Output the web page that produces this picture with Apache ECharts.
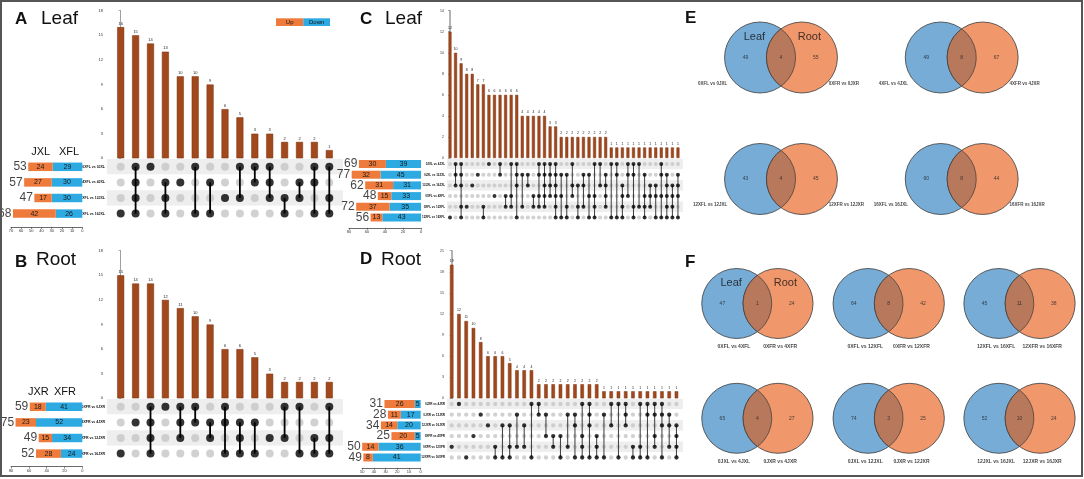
<!DOCTYPE html>
<html><head><meta charset="utf-8">
<script src="https://cdn.jsdelivr.net/npm/echarts/dist/echarts.min.js"></script>
<style>html,body{margin:0;padding:0;background:#fff}#c{width:1084px;height:479px}</style>
</head><body><div id="c"></div>
<script>
// ================= DATA =================
const aRows = ['0XFL vs 0JXL','4XFL vs 4JXL','12XFL vs 12JXL','16XFL vs 16JXL'];
const aUp = [24,27,17,42];
const aDown = [29,30,30,26];
const aCounts = [16,15,14,13,10,10,9,6,5,3,3,2,2,2,1];
const aSets = [[3],[0,1,2,3],[0],[1,2,3],[1],[0,3],[1,3],[2],[0,2],[0,1],[0,1,2],[2,3],[1,2],[0,1,3],[0,2,3]];

const bRows = ['0XFR vs 0JXR','4XFR vs 4JXR','12XFR vs 12JXR','16XFR vs 16JXR'];
const bUp = [18,23,15,28];
const bDown = [41,52,34,24];
const bCounts = [15,14,14,12,11,10,9,6,6,5,3,2,2,2,2];
const bSets = [[3],[1],[0,1,2,3],[0],[0,1,2],[0,1],[1,2],[0,1,3],[1,2,3],[1,3],[2],[0,2],[0,3],[2,3],[0,2,3]];

const cRows = ['0JXL vs 4JXL','0JXL vs 12JXL','12JXL vs 16JXL','0XFL vs 4XFL','0XFL vs 12XFL','12XFL vs 16XFL'];
const cUp = [30,32,31,15,37,13];
const cDown = [39,45,31,33,35,43];
const cCounts = [12,10,9,8,8,7,7,6,6,6,6,6,6,4,4,4,4,4,3,3,2,2,2,2,2,2,2,2,2,1,1,1,1,1,1,1,1,1,1,1,1,1];
const cSets = [[5],[0,1,2],[0,1,2,4,5],[4],[2],[1],[4,5],[0],[3],[0,1],[3,4],[0,3,4],[0,1,2,5],[1,4],[1,2],[3,4],
  [0,1,3,4],[0,1,2,3,4],[0,1,2,3],[0,1,2,3,4,5],[1,3,5],[1,4,5],[0,2,3],[2,4,5],[1,2,4],[1,3,5],[0,3,4,5],[0,2],
  [1,2,3,4],[0,5],[0,1,5],[2,3,4,5],[0,1,3],[0,1,4,5],[0,4],[1,3,4,5],[2,3,4],[2,3,5],[0,1,3,5],[1,2,3,4,5],[2,3,4,5],[1,2,3,5]];

const dRows = ['0JXR vs 4JXR','0JXR vs 12JXR','12JXR vs 16JXR','0XFR vs 4XFR','0XFR vs 12XFR','12XFR vs 16XFR'];
const dUp = [26,11,14,20,14,8];
const dDown = [5,17,20,5,36,41];
const dCounts = [19,12,11,10,8,6,6,6,5,4,4,4,2,2,2,2,2,2,2,2,2,1,1,1,1,1,1,1,1,1,1,1];
const dSets = [[4],[0],[5],[3],[1],[2],[4,5],[2,5],[2,4,5],[1,4],[2,4],[0,5],[0,1],[1,3],[3,4],[3,5],
  [1,4],[1,2,5],[0,3,4,5],[0,1,2,5],[3,4,5],[1,5],[0,2],[0,5],[0,1,2],[4,5],[0,4,5],[0,1,5],[0,1,3,4],[0,1,2,5],[1,2,4],[2,3,4,5]];

const eLeft = [49,49,43,60];
const eBoth = [4,8,4,8];
const eRight = [55,67,45,44];
const eLabL = ['0XFL vs 0JXL','4XFL vs 4JXL','12XFL vs 12JXL','16XFL vs 16JXL'];
const eLabR = ['0XFR vs 0JXR','4XFR vs 4JXR','12XFR vs 12JXR','16XFR vs 16JXR'];

const fLeft = [47,64,45,65,74,52];
const fBoth = [1,8,11,4,3,10];
const fRight = [24,42,38,27,25,24];
const fLabL = ['0XFL vs 4XFL','0XFL vs 12XFL','12XFL vs 16XFL','0JXL vs 4JXL','0JXL vs 12JXL','12JXL vs 16JXL'];
const fLabR = ['0XFR vs 4XFR','0XFR vs 12XFR','12XFR vs 16XFR','0JXR vs 4JXR','0JXR vs 12JXR','12JXR vs 16JXR'];

// ================= STYLE =================
const FONT = "'Liberation Sans', Arial, Helvetica, sans-serif";
const UP = '#ee7a3c', DOWN = '#2daae2', BAR = '#a1481d', BARB = '#7a3310';
const VBLUE = '#76acd6', VORANGE = '#f0976b', VOVER = '#b8785c';
const VD = 0.59;

const option = {animation:false, textStyle:{fontFamily:FONT}, grid:[], xAxis:[], yAxis:[], series:[], graphic:[]};
function addGrid(l,t,w,h){ option.grid.push({left:l, top:t, width:w, height:h, containLabel:false, outerBoundsMode:'none'}); return option.grid.length-1; }
function addX(o){ option.xAxis.push(o); return option.xAxis.length-1; }
function addY(o){ option.yAxis.push(o); return option.yAxis.length-1; }

function upset(cfg, rows, up, down, counts, sets){
  const xmin = (cfg.bandL - cfg.col0)/cfg.step, xmax = (cfg.bandR - cfg.col0)/cfg.step;
  const W = cfg.bandR - cfg.bandL, H = cfg.rowH*rows.length;
  // intersection-size bars
  const g1 = addGrid(cfg.bandL, cfg.barTop, W, cfg.barBottom - cfg.barTop);
  const x1 = addX({gridIndex:g1, type:'value', min:xmin, max:xmax, show:false});
  const y1 = addY({gridIndex:g1, type:'value', min:0, max:cfg.barMax, interval:cfg.barInt, offset:cfg.yOff,
    axisLine:{show:true, lineStyle:{color:'#a0a0a0', width:cfg.yAxisW}},
    axisTick:{show:true, length:2, lineStyle:{color:'#777', width:0.6}},
    axisLabel:{fontSize:cfg.yLab, color:'#333', margin:2}, splitLine:{show:false}});
  option.series.push({type:'bar', xAxisIndex:x1, yAxisIndex:y1, barWidth:cfg.barW,
    data:counts.map((v,i)=>[i,v]),
    itemStyle:{color:BAR, borderColor:BARB, borderWidth:0.5},
    label:{show:true, position:'top', distance:1.5, fontSize:cfg.valSize, color:'#222', formatter:p=>p.value[1]}});
  // matrix
  const g2 = addGrid(cfg.bandL, cfg.matTop, W, H);
  const x2 = addX({gridIndex:g2, type:'value', min:xmin, max:xmax, show:false});
  const y2 = addY({gridIndex:g2, type:'category', data:rows, inverse:true,
    axisLine:{show:false}, axisTick:{show:false},
    axisLabel:{fontSize:cfg.rowLab, color:'#111', margin:2, interval:0, fontWeight:'bold'},
    splitLine:{show:false}, splitArea:{show:true, areaStyle:{color:['#eeeeee','#ffffff']}}});
  const lines = [], grey = [], black = [];
  sets.forEach((s,i)=>{
    for (let r=0;r<rows.length;r++) (s.includes(r)?black:grey).push([i,r]);
    if (s.length>1) lines.push([i, Math.min(...s), Math.max(...s)]);
  });
  option.series.push({type:'scatter', xAxisIndex:x2, yAxisIndex:y2, data:grey, symbolSize:cfg.dot,
    itemStyle:{color:'#c6c6c6'}, z:3, silent:true});
  option.series.push({type:'custom', xAxisIndex:x2, yAxisIndex:y2, data:lines, z:4,
    encode:{x:0, y:[1,2]},
    renderItem:(p,api)=>{
      const a = api.coord([api.value(0), api.value(1)]);
      const b = api.coord([api.value(0), api.value(2)]);
      return {type:'line', shape:{x1:a[0],y1:a[1],x2:b[0],y2:b[1]}, style:{stroke:cfg.lineColor, lineWidth:cfg.lineW}};
    }});
  option.series.push({type:'scatter', xAxisIndex:x2, yAxisIndex:y2, data:black, symbolSize:cfg.dot,
    itemStyle:{color:'#000'}, z:5, silent:true});
  // set-size bars
  const g3 = addGrid(cfg.sizeL, cfg.matTop, cfg.sizeR - cfg.sizeL, H);
  const x3 = addX({gridIndex:g3, type:'value', inverse:true, min:0, max:cfg.sizeMax, interval:cfg.sizeInt, offset:cfg.sizeOff,
    axisLine:{show:true, lineStyle:{color:'#444', width:0.8}}, axisTick:{show:true, length:2, lineStyle:{color:'#444', width:0.6}},
    axisLabel:{fontSize:4, color:'#333', margin:2}, splitLine:{show:false}});
  const y3 = addY({gridIndex:g3, type:'category', data:rows, inverse:true, show:false});
  option.series.push({type:'bar', xAxisIndex:x3, yAxisIndex:y3, stack:'s'+g3, data:down, barWidth:cfg.sizeBarH,
    itemStyle:{color:DOWN}, label:{show:true, position:'inside', fontSize:7, color:'#1a1a1a'}});
  option.series.push({type:'bar', xAxisIndex:x3, yAxisIndex:y3, stack:'s'+g3, data:up, barWidth:cfg.sizeBarH,
    itemStyle:{color:UP}, label:{show:true, position:'inside', fontSize:7, color:'#1a1a1a'}});
  option.series.push({type:'scatter', xAxisIndex:x3, yAxisIndex:y3, symbolSize:1,
    data:up.map((u,k)=>[u+down[k], k]), itemStyle:{color:'rgba(0,0,0,0)'},
    label:{show:true, position:'left', distance:1, fontSize:cfg.totalSize, color:'#111', formatter:p=>p.value[0]}});
}

function venn(cx, cy, R, nL, nB, nR, labL, labR, mode, names){
  const g = addGrid(cx-2.4*R, cy-1.6*R, 4.8*R, 3.2*R);
  const xa = addX({gridIndex:g, type:'value', min:-2.4, max:2.4, show:false});
  const ya = addY({gridIndex:g, type:'value', min:-1.6, max:1.6, show:false});
  option.series.push({type:'custom', xAxisIndex:xa, yAxisIndex:ya, data:[[-VD,0,0],[VD,0,1]], z:2,
    renderItem:(p,api)=>{
      const c = api.coord([api.value(0), api.value(1)]);
      const r = api.size([1,0])[0];
      return {type:'circle', shape:{cx:c[0], cy:c[1], r:r},
        style:{fill: api.value(2) ? VORANGE : VBLUE, stroke:'#3a3a3a', lineWidth:0.8}};
    }});
  option.series.push({type:'custom', xAxisIndex:xa, yAxisIndex:ya, data:[[0,0]], z:3,
    renderItem:(p,api)=>{
      const c1 = api.coord([-VD,0]), c2 = api.coord([VD,0]);
      const r = api.size([1,0])[0];
      const mx = (c1[0]+c2[0])/2, half = (c2[0]-c1[0])/2, h = Math.sqrt(r*r-half*half);
      const d = 'M'+mx+' '+(c1[1]-h)+' A'+r+' '+r+' 0 0 1 '+mx+' '+(c1[1]+h)+' A'+r+' '+r+' 0 0 1 '+mx+' '+(c1[1]-h)+' Z';
      return {type:'path', shape:{pathData:d}, style:{fill:VOVER, stroke:'#3a3a3a', lineWidth:0.7}};
    }});
  const pts = [
    {value:[-1.0,0], label:{formatter:String(nL)}},
    {value:[0,0], label:{formatter:String(nB)}},
    {value:[0.98,0], label:{formatter:String(nR)}}
  ];
  option.series.push({type:'scatter', xAxisIndex:xa, yAxisIndex:ya, symbolSize:1, z:5, data:pts,
    itemStyle:{color:'rgba(0,0,0,0)'}, label:{show:true, position:'inside', fontSize:5, color:'#222'}});
  let labs;
  if (mode==='side') labs = [
    {value:[-1.5,-0.73], label:{formatter:labL, position:'left', distance:0}},
    {value:[1.33,-0.73], label:{formatter:labR, position:'right', distance:0}}];
  else labs = [
    {value:[-0.67,-1.23], label:{formatter:labL, position:'inside'}},
    {value:[0.65,-1.23], label:{formatter:labR, position:'inside'}}];
  option.series.push({type:'scatter', xAxisIndex:xa, yAxisIndex:ya, symbolSize:1, z:5, data:labs,
    itemStyle:{color:'rgba(0,0,0,0)'}, label:{show:true, fontSize:mode==='side'?4.5:5, fontWeight:'bold', color:'#111'}});
  if (names){
    option.series.push({type:'scatter', xAxisIndex:xa, yAxisIndex:ya, symbolSize:1, z:6,
      data:[{value:[-0.75,0.58], label:{formatter:'Leaf'}},{value:[0.8,0.58], label:{formatter:'Root'}}],
      itemStyle:{color:'rgba(0,0,0,0)'}, label:{show:true, position:'inside', fontSize:11, color:'#111'}});
  }
}

// ================= BUILD =================
const baseAB = {bandL:107, bandR:343, col0:120.7, step:14.9, rowH:15.6, yOff:2, yAxisW:1, yLab:4, barW:7, valSize:4,
  rowLab:3.5, dot:8, lineW:1.8, lineColor:'#000', sizeBarH:8.5, totalSize:12, barMax:18, barInt:3};
upset(Object.assign({}, baseAB, {barTop:10.7, barBottom:158.3, matTop:159, sizeL:10.9, sizeR:82.3, sizeMax:70, sizeInt:10, sizeOff:5.6}),
  aRows, aUp, aDown, aCounts, aSets);
upset(Object.assign({}, baseAB, {barTop:250.7, barBottom:398.3, matTop:399, sizeL:11.1, sizeR:82.3, sizeMax:80, sizeInt:20, sizeOff:5.3}),
  bRows, bUp, bDown, bCounts, bSets);
const baseCD = {bandL:447, bandR:683, rowH:10.7, yOff:1, yAxisW:1.6, yLab:3.5, valSize:3.5, rowLab:3,
  lineW:1, lineColor:'#3c3c3c', sizeBarH:8, totalSize:12, sizeOff:5};
upset(Object.assign({}, baseCD, {barTop:10.7, barBottom:158, barMax:14, barInt:2, col0:450, step:5.56, barW:3, dot:4,
  matTop:158.65, sizeL:349, sizeR:421, sizeMax:80, sizeInt:20}), cRows, cUp, cDown, cCounts, cSets);
upset(Object.assign({}, baseCD, {barTop:250.7, barBottom:398.3, barMax:21, barInt:3, col0:451.7, step:7.25, barW:3.5, dot:4.3,
  matTop:398.65, sizeL:362.2, sizeR:420.7, sizeMax:50, sizeInt:10}), dRows, dUp, dDown, dCounts, dSets);

const eCenters = [[781,57.5],[961.7,57.5],[781,179],[961.7,179]];
eCenters.forEach((c,k)=>venn(c[0], c[1], 35.5, eLeft[k], eBoth[k], eRight[k], eLabL[k], eLabR[k], 'side', k===0));
const fCenters = [[757.4,303.5],[888.7,303.5],[1019.5,303.5],[757.4,418.3],[888.7,418.3],[1019.5,418.3]];
fCenters.forEach((c,k)=>venn(c[0], c[1], 35, fLeft[k], fBoth[k], fRight[k], fLabL[k], fLabR[k], 'below', k===0));

// ================= TEXT / DECORATION =================
function txt(x,y,t,size,weight,align){
  option.graphic.push({type:'text', x:x, y:y, z:50, style:{text:t, fontSize:size, fontWeight:weight||'normal',
    fontFamily:FONT, fill:'#111', align:align||'left', verticalAlign:'top'}});
}
txt(15,11,'A',17,'bold'); txt(41,9,'Leaf',19);
txt(15,254,'B',17,'bold'); txt(36,250,'Root',19);
txt(360,11,'C',17,'bold'); txt(385,9,'Leaf',19);
txt(360,251,'D',17,'bold'); txt(381,250,'Root',19);
txt(685,10,'E',17,'bold');
txt(685,254,'F',17,'bold');
txt(40.7,146.5,'JXL',11,'normal','center'); txt(69,146.5,'XFL',11,'normal','center');
txt(38.3,386.5,'JXR',11,'normal','center'); txt(65,386.5,'XFR',11,'normal','center');
option.graphic.push({type:'rect', shape:{x:276, y:18.3, width:27.3, height:7.7}, style:{fill:UP}, z:40});
option.graphic.push({type:'rect', shape:{x:303.3, y:18.3, width:26.7, height:7.7}, style:{fill:DOWN}, z:40});
txt(289.7,19.2,'Up',6,'normal','center'); txt(316.7,19.2,'Down',6,'normal','center');
option.graphic.push({type:'rect', shape:{x:1, y:1, width:1081, height:475}, style:{fill:'none', stroke:'#555', lineWidth:2}, z:60, silent:true});

const chart = echarts.init(document.getElementById('c'), null, {renderer:'canvas'});
chart.setOption(option);
</script></body></html>
